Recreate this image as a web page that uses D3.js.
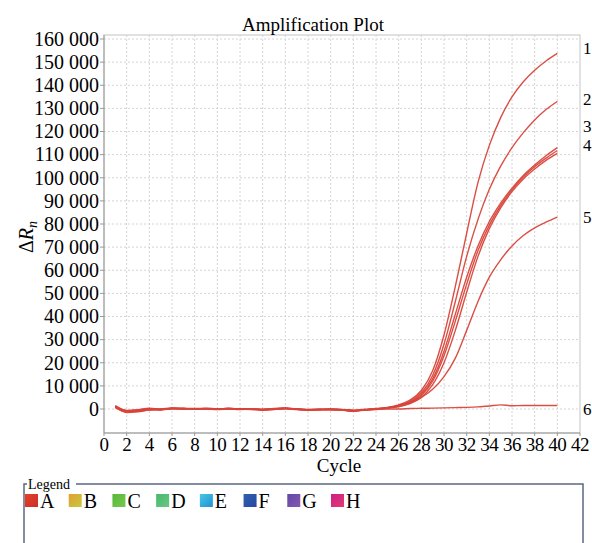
<!DOCTYPE html>
<html>
<head>
<meta charset="utf-8">
<script src="https://cdn.jsdelivr.net/npm/d3@7"></script>
<style>
  html, body { margin: 0; padding: 0; background: #fff; overflow: hidden; }
  svg { display: block; font-family: "Liberation Serif", "Times New Roman", serif; }
</style>
</head>
<body>
<div id="chart"></div>
<script>
// cycles 1..40
var cycles = d3.range(1, 41);

// delta Rn per cycle, one array per well
var well1 = [1200,-900,-700,100,-200,300,200,100,200,0,300,0,100,-200,100,400,0,-300,-200,-100,-300,-700,-300,100,700,
  1800,3800,8000,16500,32000,53000,76000,98000,114000,126000,135000,141500,146500,150500,153800];
var well2 = [800,-1500,-1200,-500,-300,200,100,-100,100,-100,100,-100,-200,-500,-200,200,-100,-400,-300,-200,-400,-900,-400,0,500,
  1600,3300,7000,14500,28000,46500,66000,82000,95000,105000,113000,119500,125000,129500,133000];
var well3 = [1500,-600,-300,300,0,400,300,200,300,100,200,100,100,-100,200,300,100,-200,-100,0,-200,-500,-100,200,600,
  1400,3000,6300,13000,25000,41000,57000,70500,81000,89000,95500,101000,105500,109500,113000];
var well3b = [600,-1200,-1000,-300,-400,100,0,0,0,-200,0,-200,-100,-400,-100,100,-200,-500,-400,-300,-500,-1000,-500,-100,400,
  1300,2700,5800,12000,23000,38000,54000,68500,79500,88000,94800,100300,104800,108500,111800];
var well4 = [1000,-1000,-800,-200,-100,300,200,0,100,0,200,0,0,-300,0,300,-100,-300,-200,-200,-300,-800,-300,0,500,
  1100,2300,5000,10500,20000,34000,50500,66000,78000,87000,94000,99500,103800,107500,110500];
var well5 = [900,-800,-600,0,-200,200,100,0,100,-100,100,-100,0,-200,0,200,-100,-300,-200,-100,-300,-600,-300,0,400,
  1000,2600,5000,8500,14000,22000,34000,46500,57000,64500,70500,75000,78300,80800,83000];
var well6 = [1100,-700,-500,100,-100,200,100,0,100,-100,100,-100,0,-300,0,300,-100,-300,-200,-200,-400,-700,-400,-200,0,
  0,200,300,400,500,600,700,900,1300,1800,1400,1500,1500,1500,1500];

var wells = [well1, well2, well3, well3b, well4, well5, well6];

// side labels: text and the value they sit beside
var sideLabels = ["1", "2", "3", "4", "5", "6"];
var sideValues = [156000, 134000, 122400, 114000, 83000, 0];

var xTicks = d3.range(0, 43, 2);
var yTicks = d3.range(0, 160001, 10000);

var legendNames = ["A", "B", "C", "D", "E", "F", "G", "H"];
var legendColors = [["#e8402a", "#c8302a"], ["#e0a030", "#c8c840"], ["#58b838", "#78c850"], ["#48b868", "#68c888"],
  ["#48c8e0", "#2090d8"], ["#3060b0", "#2848a0"], ["#6048a8", "#8858b0"], ["#c82088", "#e83870"]];

var W = 592, H = 543;
var svg = d3.select("#chart").append("svg").attr("width", W).attr("height", H);

var plotL = 104, plotR = 580, plotT = 35, plotB = 433;
var x = d3.scaleLinear().domain([0, 42]).range([plotL, plotR]);
var y = d3.scaleLinear().domain([0, 160000]).range([409, 39]);

// grid
svg.append("g").selectAll("line").data(xTicks.filter(function(d){ return d > 0 && d < 42; }))
  .enter().append("line")
  .attr("x1", function(d){ return x(d); }).attr("x2", function(d){ return x(d); })
  .attr("y1", plotT).attr("y2", plotB)
  .attr("stroke", "#d4d4d4").attr("stroke-dasharray", "2,2");
svg.append("g").selectAll("line").data(yTicks)
  .enter().append("line")
  .attr("x1", plotL).attr("x2", plotR)
  .attr("y1", function(d){ return y(d); }).attr("y2", function(d){ return y(d); })
  .attr("stroke", "#d4d4d4").attr("stroke-dasharray", "2,2");

// frame
svg.append("rect").attr("x", plotL).attr("y", plotT).attr("width", plotR - plotL).attr("height", plotB - plotT)
  .attr("fill", "none").attr("stroke", "#c4c4c4");
svg.append("line").attr("x1", plotL).attr("x2", plotL).attr("y1", plotT).attr("y2", plotB).attr("stroke", "#999");
svg.append("line").attr("x1", plotL).attr("x2", plotR).attr("y1", plotB).attr("y2", plotB).attr("stroke", "#999");

// y ticks
var fmt = function(d){ return d3.format(",")(d).replace(/,/g, " "); };
var yt = svg.append("g");
yt.selectAll("line").data(yTicks).enter().append("line")
  .attr("x1", plotL - 4).attr("x2", plotL)
  .attr("y1", function(d){ return y(d); }).attr("y2", function(d){ return y(d); })
  .attr("stroke", "#999");
yt.selectAll("text").data(yTicks).enter().append("text")
  .attr("x", plotL - 5).attr("y", function(d){ return y(d); })
  .attr("dy", "0.34em").attr("text-anchor", "end")
  .attr("font-size", 20).text(fmt);

// x ticks
var xt = svg.append("g");
xt.selectAll("line").data(xTicks).enter().append("line")
  .attr("x1", function(d){ return x(d); }).attr("x2", function(d){ return x(d); })
  .attr("y1", plotB).attr("y2", plotB + 3).attr("stroke", "#999");
xt.selectAll("text").data(xTicks).enter().append("text")
  .attr("x", function(d){ return x(d); }).attr("y", 451)
  .attr("text-anchor", "middle").attr("font-size", 19).attr("letter-spacing", -0.5)
  .text(function(d){ return d; });

// titles
svg.append("text").attr("x", 313).attr("y", 31).attr("text-anchor", "middle")
  .attr("font-size", 19).text("Amplification Plot");
svg.append("text").attr("x", 339).attr("y", 472).attr("text-anchor", "middle")
  .attr("font-size", 19).text("Cycle");
var yl = svg.append("text").attr("transform", "translate(33,237) rotate(-90)")
  .attr("text-anchor", "middle").attr("font-size", 20);
yl.append("tspan").text("\u0394");
yl.append("tspan").attr("font-style", "italic").text("R");
yl.append("tspan").attr("font-style", "italic").attr("font-size", 14).attr("dy", 4).text("n");

// curves
var line = d3.line().x(function(d, i){ return x(cycles[i]); }).y(function(d){ return y(d); }).curve(d3.curveMonotoneX);
svg.append("g").selectAll("path").data(wells).enter().append("path")
  .attr("d", line).attr("fill", "none")
  .attr("stroke", "#d8453a").attr("stroke-width", 1.4).attr("stroke-opacity", 0.95);

// side labels
svg.append("g").selectAll("text").data(sideLabels).enter().append("text")
  .attr("x", 583).attr("y", function(d, i){ return y(sideValues[i]); })
  .attr("dy", "0.34em").attr("font-size", 17).text(function(d){ return d; });

// legend
var defs = svg.append("defs");
legendColors.forEach(function(c, i){
  var g = defs.append("linearGradient").attr("id", "lg" + i).attr("x1", "0").attr("x2", "1").attr("y1", "0").attr("y2", "1");
  g.append("stop").attr("offset", "0").attr("stop-color", c[0]);
  g.append("stop").attr("offset", "1").attr("stop-color", c[1]);
});
var lgTop = 484;
svg.append("path")
  .attr("d", "M24," + (H + 2) + "V" + lgTop + "H27 M76," + lgTop + "H583V" + (H + 2))
  .attr("fill", "none").attr("stroke", "#5a6a80").attr("stroke-width", 1.5);
svg.append("text").attr("x", 28).attr("y", 489).attr("font-size", 14).text("Legend");
var lx = d3.scalePoint().domain(legendNames).range([25, 331]);
var li = svg.append("g").selectAll("g").data(legendNames).enter().append("g")
  .attr("transform", function(d){ return "translate(" + lx(d) + ",0)"; });
li.append("rect").attr("x", 0).attr("y", 494).attr("width", 13).attr("height", 13)
  .attr("fill", function(d, i){ return "url(#lg" + i + ")"; });
li.append("text").attr("x", 15).attr("y", 508).attr("font-size", 20).text(function(d){ return d; });
</script>
</body>
</html>
